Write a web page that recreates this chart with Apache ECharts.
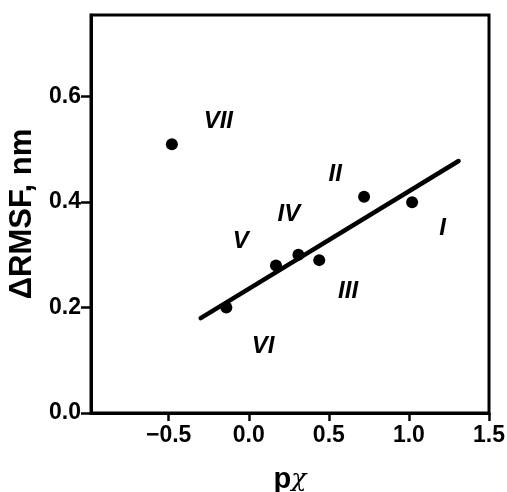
<!DOCTYPE html>
<html>
<head>
<meta charset="utf-8">
<script src="https://cdn.jsdelivr.net/npm/echarts@6/dist/echarts.min.js"></script>
<style>
  html, body { margin: 0; padding: 0; background: #fff; }
  #chart { width: 507px; height: 492px; }
</style>
</head>
<body>
<div id="chart"></div>
<script>
// Roman-numbered samples: hydrophobicity shift (pχ) vs ΔRMSF
const pointNames = ['I', 'II', 'III', 'IV', 'V', 'VI', 'VII'];
const pointX = [1.02, 0.72, 0.44, 0.31, 0.17, -0.14, -0.48];
const pointY = [0.40, 0.41, 0.29, 0.30, 0.28, 0.20, 0.51];

// where each numeral sits, in data units
const labelX = [1.21, 0.54, 0.62, 0.25, -0.05, 0.09, -0.19];
const labelY = [0.350, 0.452, 0.230, 0.376, 0.325, 0.126, 0.554];

// fitted straight line, end points
const fitX = [-0.30, 1.31];
const fitY = [0.180, 0.478];

const xTicks = [-0.5, 0.0, 0.5, 1.0, 1.5];
const yTicks = [0.0, 0.2, 0.4, 0.6];

const font = 'Liberation Sans, Arial, sans-serif';

const chart = echarts.init(document.getElementById('chart'), null, { renderer: 'canvas' });

chart.setOption({
  backgroundColor: '#ffffff',
  animation: false,
  grid: {
    left: 91, right: 18, top: 15, bottom: 79,
    containLabel: false,
    outerBoundsMode: 'none',
    show: true, borderColor: '#000', borderWidth: 3, backgroundColor: 'transparent'
  },
  xAxis: {
    type: 'value',
    min: -0.985, max: 1.5,
    splitLine: { show: false },
    axisLine: { show: true, onZero: false, lineStyle: { color: '#000', width: 3 } },
    axisTick: { show: true, length: 8, lineStyle: { color: '#000', width: 2.5 }, customValues: xTicks },
    axisLabel: {
      customValues: xTicks,
      margin: 11,
      color: '#000', fontFamily: font, fontWeight: 'bold', fontSize: 23,
      formatter: v => (v < 0 ? '\u2212' : '') + Math.abs(v).toFixed(1)
    },
    name: '{p|p}{c|\u03c7}',
    nameLocation: 'middle',
    nameGap: 52,
    nameTextStyle: {
      rich: {
        p: { fontFamily: font, fontWeight: 'bold', fontSize: 29, color: '#000' },
        c: { fontFamily: 'DejaVu Serif, serif', fontStyle: 'italic', fontSize: 25, color: '#000' }
      }
    }
  },
  yAxis: {
    type: 'value',
    min: 0, max: 0.755,
    splitLine: { show: false },
    axisLine: { show: true, onZero: false, lineStyle: { color: '#000', width: 3 } },
    axisTick: { show: true, length: 10, lineStyle: { color: '#000', width: 2.5 }, customValues: yTicks },
    axisLabel: {
      customValues: yTicks,
      margin: 10,
      color: '#000', fontFamily: font, fontWeight: 'bold', fontSize: 23,
      formatter: v => v.toFixed(1)
    },
    name: '\u0394RMSF, nm',
    nameLocation: 'middle',
    nameRotate: 90,
    nameGap: 52,
    nameTextStyle: { fontFamily: font, fontWeight: 'bold', fontSize: 31, color: '#000' }
  },
  series: [
    {
      type: 'line',
      data: fitX.map((x, i) => [x, fitY[i]]),
      showSymbol: false,
      lineStyle: { color: '#000', width: 4.5, cap: 'round', opacity: 1 },
      z: 2
    },
    {
      type: 'scatter',
      data: pointX.map((x, i) => [x, pointY[i]]),
      symbol: 'circle',
      symbolSize: 12,
      itemStyle: { color: '#000', opacity: 1 },
      z: 3
    },
    {
      type: 'scatter',
      data: labelX.map((x, i) => ({ value: [x, labelY[i]], name: pointNames[i] })),
      symbolSize: 0,
      silent: true,
      itemStyle: { opacity: 1 },
      label: {
        show: true,
        position: 'inside',
        formatter: p => p.name,
        color: '#000', fontFamily: font, fontWeight: 'bold', fontStyle: 'italic', fontSize: 24
      },
      z: 4
    }
  ]
});
</script>
</body>
</html>
